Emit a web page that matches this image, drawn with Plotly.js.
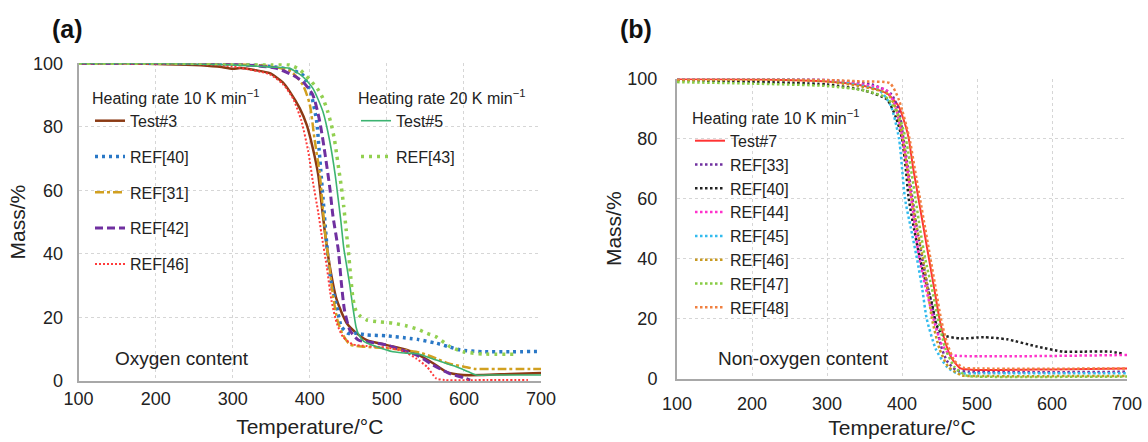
<!DOCTYPE html>
<html>
<head>
<meta charset="utf-8">
<script src="https://cdn.plot.ly/plotly-3.0.1.min.js"></script>
<style>html,body{margin:0;padding:0;background:#fff;}#chart{width:1148px;height:442px;}</style>
</head>
<body>
<div id="chart"></div>
<script>
// ---------- Panel (a): Oxygen content ----------
const aTest3T = [100,150,200,250,280,300,310,330,348,365,374,387,396,404,411,415,419,426,435,448,461,474,500,526,540,560,577,599,625,660,700];
const aTest3M = [100,100,99.8,99.5,99,98.3,98.5,97.8,96.9,94,91.1,85.8,80.6,73.2,64.8,56.4,48,36,25.5,18.2,15,12.9,11.3,9.8,8.4,5.6,2.9,1.9,1.9,2.2,2.5];

const aRef40T = [100,200,300,350,375,391,402,409,412,415,418,421,424,428,435,441,450,460,474,500,530,540,564,580,595,625,660,700];
const aRef40M = [100,100,99.8,99,98,96.3,90,81.6,73,64,55,46,38,30.7,23.4,17.1,15,15,14.5,14.2,13.4,13.1,11.9,10.8,9.8,9.2,9.2,9.3];

const aRef31T = [100,200,300,350,375,391,400,406,413,417,421,425,430,436,443,452,470,500,520,542,560,580,600,615,650,700];
const aRef31M = [100,100,99.8,99,97.5,93.2,87,76.4,65,54,44,37,27,19,14.5,11.5,10.8,10.3,9.8,9,7.5,5.5,4.5,3.8,3.8,3.8];

const aRef42T = [100,200,300,357,380,391,404,413,420,426,430,437,441,445,452,463,487,500,526,540,560,580,600,608];
const aRef42M = [100,100,99.8,98.4,96,94.2,90,81.6,71.1,60.7,52,41.2,30.7,22.3,16,12.9,11.9,11.3,9.2,8,5,2.5,1,0.3];

const aRef46T = [100,250,300,348,365,378,389,398,404,411,415,422,428,435,443,456,474,500,520,538,552,564,575,630,683];
const aRef46M = [100,99.8,99,96.5,93.5,89,82,72.2,62.7,53,46.5,36,25.5,18.2,13.9,11.5,11,10.5,9.5,7.1,4.5,0.8,0.3,0.3,0.3];

const aTest5T = [100,200,300,350,374,390,404,417,426,433,436,440,444,448,452,456,460,463,470,487,508,530,540,564,590,605,616,640,700];
const aTest5M = [100,100,99.5,98.8,98.4,96,92.1,84.8,75.3,64.8,59,51,42,36,30,23,17,14.8,12.5,10.8,9.2,8.7,8.6,6.6,4.5,3,1.9,1.9,1.9];

const aRef43T = [100,200,300,350,374,387,400,410,417,423,428,432,435,438,441,444,447,450,453,456,460,465,474,490,508,526,540,552,564,575,582,599,625,668];
const aRef43M = [100,100,100,99.8,99.5,98,94.8,92,89,85,80.6,76,71.1,66,61,55,48,41,33,26,22,20.5,19.2,18.6,18.2,17.3,16.3,15,13.9,12,10.8,9.2,8.5,8.4];

// ---------- Panel (b): Non-oxygen content ----------
const bTest7T = [100,200,300,350,380,395,405,409,415,422,429,436,443,450,458,466,478,500,600,700];
const bTest7M = [99.8,99.7,99,97.5,95,91,84,80,70,60,50,40,30,20,12,7,3.5,3.0,3.2,3.5];

const bRef33T = [100,300,360,385,395,402,408,414,420,427,435,444,452,460,472,490,700];
const bRef33M = [99.8,99.5,98,95,90,80,70,60,50,40,30,20,11,6,3,2.4,2.4];

const bRef40T = [100,300,350,380,392,400,405,409,416,424,432,440,446,455,478,509,540,580,615,642,678,696];
const bRef40M = [99.5,98,96,93,87,80,70,60,50,40,32,25,18,14.6,13.5,13.9,13.2,10.8,9.1,9.1,9.1,8.3];

const bRef44T = [100,300,380,392,400,407,415,423,432,442,452,462,470,700];
const bRef44M = [99.8,99.5,96,90,81,70,55,40,30,20,12,8.5,7.8,8];

const bRef45T = [100,300,370,385,396,404,412,420,427,433,445,460,473,500,700];
const bRef45M = [99.8,99.3,96,91,80,60,50,40,30,20,10,4,2,1.9,1.9];

const bRef46T = [100,300,380,392,401,413,420,428,434,440,450,462,480,500,700];
const bRef46M = [99.5,99,95,90,80,60,50,40,30,20,10,4,1.2,1.0,1.0];

const bRef47T = [100,200,300,350,380,395,405,418,424,431,440,448,458,470,485,500,700];
const bRef47M = [98.8,98.3,97.5,96,93.5,88,80,60,50,40,30,20,10,4,1.2,0.8,0.8];

const bRef48T = [100,250,300,350,384,396,410,417,424,431,438,445,452,460,470,482,500,700];
const bRef48M = [99.8,99.8,99.5,99,98.4,92.8,80,70,60,50,40,30,20,12,6,3.8,3.5,3.5];

function tr(x, y, name, color, width, dash, xa, ya, legend) {
  return {
    type: 'scatter', mode: 'lines', x: x, y: y, name: name,
    xaxis: xa, yaxis: ya, legend: legend, legendgroup: name + legend,
    line: {color: color, width: width, dash: dash, shape: 'spline', smoothing: 0.6}
  };
}

const data = [
  tr(aTest3T, aTest3M, 'Test#3', '#8b3a14', 2.5, 'solid', 'x', 'y', 'legend'),
  tr(aRef40T, aRef40M, 'REF[40]', '#2a78c6', 3.5, '3px,4px', 'x', 'y', 'legend'),
  tr(aRef31T, aRef31M, 'REF[31]', '#d1a020', 2.5, '9px,3px,3px,3px', 'x', 'y', 'legend'),
  tr(aRef42T, aRef42M, 'REF[42]', '#7030a0', 3, '8px,4px', 'x', 'y', 'legend'),
  tr(aRef46T, aRef46M, 'REF[46]', '#ff3b3b', 2, '2px,2px', 'x', 'y', 'legend'),
  tr(aTest5T, aTest5M, 'Test#5', '#3cb371', 1.6, 'solid', 'x', 'y', 'legend2'),
  tr(aRef43T, aRef43M, 'REF[43]', '#92d050', 3.5, '3px,5px', 'x', 'y', 'legend2'),

  tr(bTest7T, bTest7M, 'Test#7', '#ff3333', 2, 'solid', 'x2', 'y2', 'legend3'),
  tr(bRef33T, bRef33M, 'REF[33]', '#7030a0', 2.5, '2.5px,2.5px', 'x2', 'y2', 'legend3'),
  tr(bRef40T, bRef40M, 'REF[40]', '#222222', 2.5, '2.5px,2.5px', 'x2', 'y2', 'legend3'),
  tr(bRef44T, bRef44M, 'REF[44]', '#ff33cc', 2.5, '2.5px,2.5px', 'x2', 'y2', 'legend3'),
  tr(bRef45T, bRef45M, 'REF[45]', '#33bbee', 2.5, '2.5px,2.5px', 'x2', 'y2', 'legend3'),
  tr(bRef46T, bRef46M, 'REF[46]', '#c89a20', 2.5, '2.5px,2.5px', 'x2', 'y2', 'legend3'),
  tr(bRef47T, bRef47M, 'REF[47]', '#88cc44', 2.5, '2.5px,2.5px', 'x2', 'y2', 'legend3'),
  tr(bRef48T, bRef48M, 'REF[48]', '#f08040', 2.5, '2.5px,2.5px', 'x2', 'y2', 'legend3')
];

const FONT = 'Liberation Sans, Arial, sans-serif';
const xTicks = [100,200,300,400,500,600,700];
const yTicks = [0,20,40,60,80,100];

function xaxis(domain, anchor, standoff, titleStandoff) {
  return {
    domain: domain, anchor: anchor, range: [100,700], tickvals: xTicks,
    showgrid: true, gridcolor: '#d6d6d6', griddash: 'dot', gridwidth: 1,
    showline: true, linecolor: '#a8a8a8', linewidth: 2, zeroline: false,
    ticks: '', ticklabelstandoff: standoff, automargin: false,
    tickfont: {family: FONT, size: 18, color: '#222'},
    title: {text: 'Temperature/°C', font: {family: FONT, size: 21, color: '#222'}, standoff: titleStandoff}
  };
}
function yaxis(domain, anchor, standoff, titleStandoff) {
  return {
    domain: domain, anchor: anchor, range: [0,100], tickvals: yTicks,
    showgrid: true, gridcolor: '#d6d6d6', griddash: 'dot', gridwidth: 1,
    showline: true, linecolor: '#a8a8a8', linewidth: 2, zeroline: false,
    ticks: '', ticklabelstandoff: standoff, automargin: false,
    tickfont: {family: FONT, size: 18, color: '#222'},
    title: {text: 'Mass/%', font: {family: FONT, size: 21, color: '#222'}, standoff: titleStandoff}
  };
}

function legendBox(x, y, title, gap) {
  return {
    x: x, y: y, xanchor: 'left', yanchor: 'top', xref: 'paper', yref: 'paper',
    bgcolor: 'rgba(0,0,0,0)', borderwidth: 0, itemwidth: 30,
    tracegroupgap: gap, font: {family: FONT, size: 16, color: '#222'},
    title: {text: title, font: {family: FONT, size: 16, color: '#222'}}
  };
}

const layout = {
  width: 1148, height: 442,
  margin: {l: 0, r: 0, t: 0, b: 0},
  paper_bgcolor: '#ffffff', plot_bgcolor: '#ffffff',
  font: {family: FONT, color: '#222'},
  showlegend: true,
  xaxis: xaxis([78.6/1148, 541/1148], 'y', 0, 12),
  yaxis: yaxis([61/442, 378.7/442], 'x', 10, 2),
  xaxis2: xaxis([677/1148, 1127/1148], 'y2', 7, 8),
  yaxis2: yaxis([63/442, 363.5/442], 'x2', 14, 0),
  legend: legendBox(90/1148, 359/442, 'Heating rate 10 K min<sup>−1</sup>', 12),
  legend2: legendBox(356/1148, 359/442, 'Heating rate 20 K min<sup>−1</sup>', 12),
  legend3: legendBox(690/1148, 339/442, 'Heating rate 10 K min<sup>−1</sup>', 0),
  annotations: [
    {text: '<b>(a)</b>', x: 50/1148, y: 413/442, xref: 'paper', yref: 'paper', xanchor: 'left', yanchor: 'middle', showarrow: false, font: {family: FONT, size: 25, color: '#111'}},
    {text: '<b>(b)</b>', x: 618/1148, y: 413/442, xref: 'paper', yref: 'paper', xanchor: 'left', yanchor: 'middle', showarrow: false, font: {family: FONT, size: 25, color: '#111'}},
    {text: 'Oxygen content', x: 113/1148, y: 84/442, xref: 'paper', yref: 'paper', xanchor: 'left', yanchor: 'middle', showarrow: false, font: {family: FONT, size: 19, color: '#222'}},
    {text: 'Non-oxygen content', x: 716/1148, y: 84/442, xref: 'paper', yref: 'paper', xanchor: 'left', yanchor: 'middle', showarrow: false, font: {family: FONT, size: 19, color: '#222'}}
  ]
};

Plotly.newPlot('chart', data, layout, {displayModeBar: false, staticPlot: true});
</script>
</body>
</html>
